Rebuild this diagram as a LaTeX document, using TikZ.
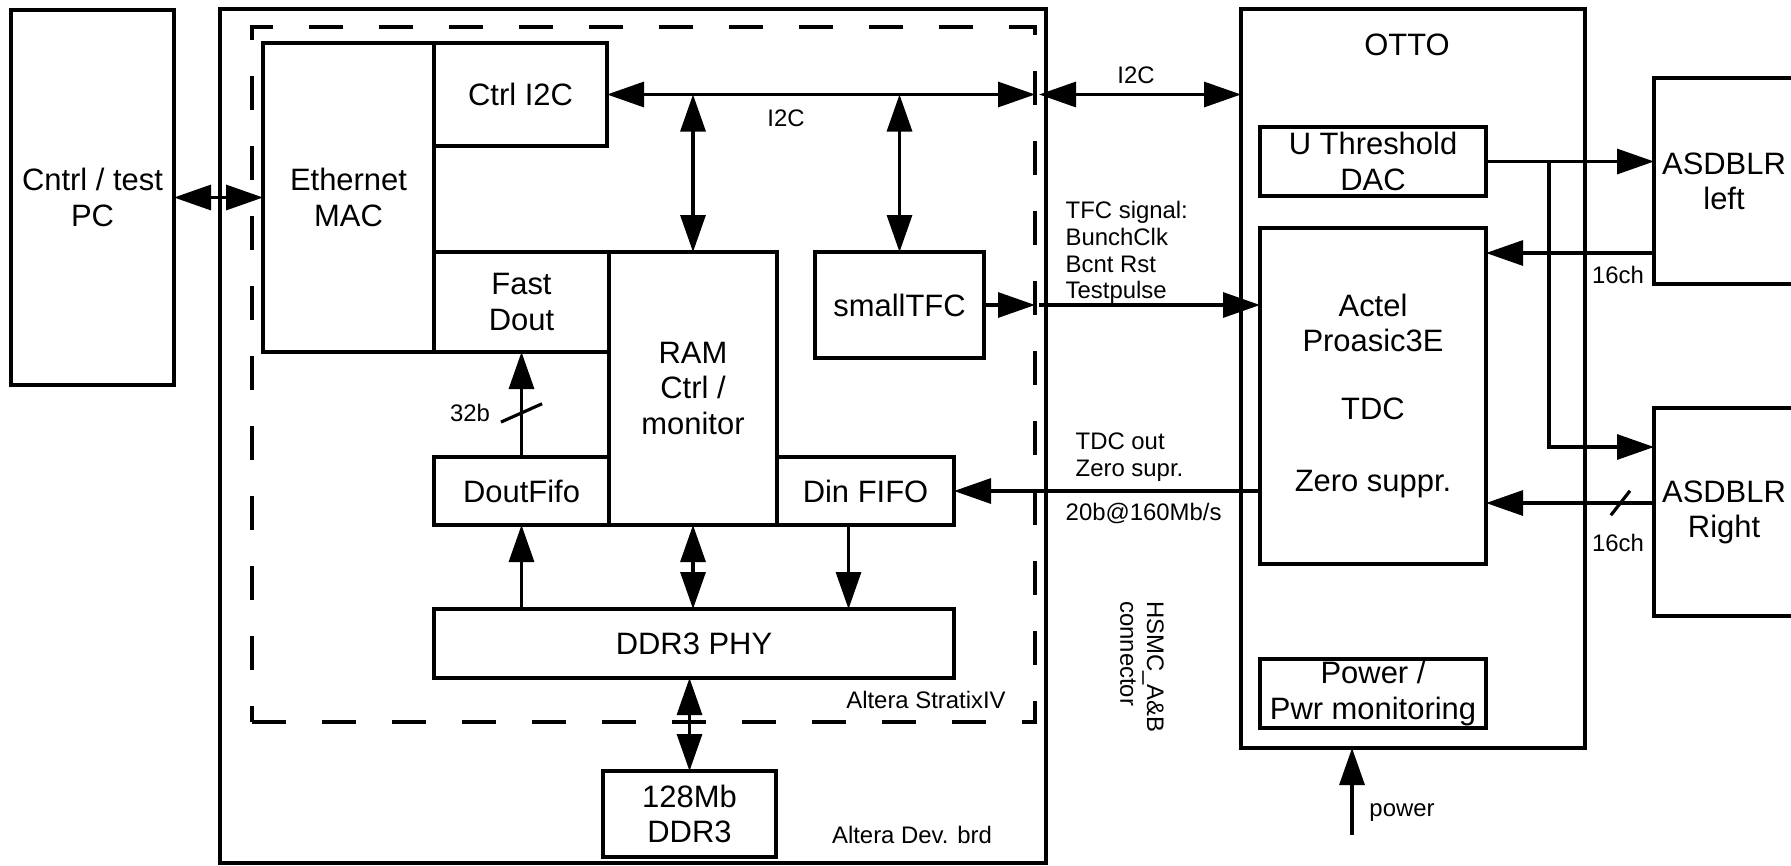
\documentclass[tikz,border=0pt]{standalone}
\usepackage{fontspec}
\setmainfont{Liberation Sans}
\usetikzlibrary{arrows.meta, positioning}

\begin{document}
\begin{tikzpicture}[
        block/.style={draw, rectangle, line width=0.9pt, align=center, inner sep=0pt, outer sep=0pt, font=\fontsize{8.8}{10}\selectfont},
        frame/.style={draw, rectangle, line width=0.9pt, outer sep=0pt},
        fpgaframe/.style={draw, rectangle, line width=1pt, outer sep=0pt, dash pattern=on 3.4mm off 3.6mm},
        title/.style={inner sep=0pt, font=\fontsize{8.8}{10}\selectfont},
        note/.style={inner sep=0pt, align=left, font=\fontsize{6.8}{7.6}\selectfont},
        sig/.style={line width=0.9pt, -{Triangle[length=3.7mm, width=2.5mm]}},
        bisig/.style={line width=0.9pt, {Triangle[length=3.7mm, width=2.5mm]}-{Triangle[length=3.7mm, width=2.5mm]}},
        slash/.style={draw, line width=0.9pt, minimum height=0pt, inner sep=0pt}
    ]
    \useasboundingbox (0,0) rectangle (17.91,8.65);
    % boards
    \node[frame, minimum width=8.26cm, minimum height=8.54cm] (devbrd) at (6.33,4.29) {};
    \node[fpgaframe, minimum width=7.83cm, minimum height=6.95cm] (fpga) at (6.435,4.905) {};
    \node[frame, minimum width=3.44cm, minimum height=7.39cm] (otto) at (14.13,4.865) {};
    \node[title] (ottolbl) at (14.07,8.20) {OTTO};

    % PC and FPGA blocks
    \node[block, minimum width=1.63cm, minimum height=3.75cm] (pc) at (0.925,6.675) {Cntrl / test\\PC};
    \node[block, minimum width=1.71cm, minimum height=3.09cm] (eth) at (3.485,6.675) {Ethernet\\MAC};
    \node[block, minimum width=1.73cm, minimum height=1.03cm, anchor=north west] (ctrli2c) at (eth.north east) {Ctrl I2C};
    \node[block, minimum width=1.75cm, minimum height=1.00cm, anchor=south west] (fastdout) at (eth.south east) {Fast\\Dout};
    \node[block, minimum width=1.68cm, minimum height=2.73cm, anchor=north west] (ram) at (fastdout.north east) {RAM\\Ctrl /\\monitor};
    \node[block, minimum width=1.75cm, minimum height=0.68cm, anchor=south east] (doutfifo) at (ram.south west) {DoutFifo};
    \node[block, minimum width=1.77cm, minimum height=0.68cm, anchor=south west] (dinfifo) at (ram.south east) {Din FIFO};
    \node[block, minimum width=1.69cm, minimum height=1.06cm] (smalltfc) at (8.995,5.60) {smallTFC};
    \node[block, minimum width=5.20cm, minimum height=0.69cm] (ddrphy) at (6.94,2.215) {DDR3 PHY};
    \node[block, minimum width=1.73cm, minimum height=0.86cm] (ddr3mem) at (6.895,0.51) {128Mb\\DDR3};

    % OTTO blocks and front-ends
    \node[block, minimum width=2.26cm, minimum height=0.69cm] (dac) at (13.73,7.035) {U Threshold\\DAC};
    \node[block, minimum width=2.26cm, minimum height=3.36cm] (actel) at (13.73,4.69) {Actel\\Proasic3E\\[9.5pt]TDC\\[10.5pt]Zero suppr.};
    \node[block, minimum width=2.26cm, minimum height=0.69cm] (pwr) at (13.73,1.715) {Power /\\Pwr monitoring};
    \node[block, minimum width=1.40cm, minimum height=2.06cm] (asdl) at (17.24,6.84) {ASDBLR\\left};
    \node[block, minimum width=1.40cm, minimum height=2.08cm] (asdr) at (17.24,3.53) {ASDBLR\\Right};

    % ethernet and I2C bus
    \draw[bisig] (pc.east) -- (eth.west);
    \draw[bisig] (ctrli2c.east) -- (ctrli2c.east -| fpga.east);
    \draw[bisig] ([xshift=0.4mm]ctrli2c.east -| fpga.east) -- (ctrli2c.east -| otto.west);
    \draw[bisig] (ctrli2c.east -| ram.north) -- (ram.north);
    \draw[bisig] (ctrli2c.east -| smalltfc.north) -- (smalltfc.north);
    \node[note] (i2cin) at (7.86,7.47) {I2C};
    \node[note] (i2cout) at (11.36,7.90) {I2C};

    % TFC
    \draw[sig] (smalltfc.east) -- (smalltfc.east -| fpga.east);
    \draw[sig] ([xshift=0.4mm]smalltfc.east -| fpga.east) -- (smalltfc.east -| actel.west);
    \node[note, anchor=west] (tfclbl) at (10.65,6.125) {TFC signal:\\BunchClk\\Bcnt Rst\\Testpulse};

    % data path
    \draw[sig] (doutfifo.north) -- (fastdout.south) node[pos=0.42, slash, minimum width=4.5mm, rotate=24] (slash32) {};
    \node[note] (bits32) at (4.70,4.52) {32b};
    \draw[sig] (doutfifo.south |- ddrphy.north) -- (doutfifo.south);
    \draw[bisig] (ram.south) -- (ram.south |- ddrphy.north);
    \draw[sig] ([xshift=-1.7mm]dinfifo.south) -- ([xshift=-1.7mm]dinfifo.south |- ddrphy.north);
    \draw[bisig] (ddrphy.south -| ddr3mem.north) -- (ddr3mem.north);
    \draw[sig] (actel.west |- dinfifo.east) -- (dinfifo.east);
    \node[note, anchor=west] (tdclbl) at (10.75,4.08) {TDC out\\Zero supr.};
    \node[note, anchor=west] (ratelbl) at (10.65,3.52) {20b@160Mb/s};

    % threshold and channels
    \path (dac.east) ++(0.63,0) coordinate (dacsplit);
    \draw[sig] (dac.east) -- (dac.east -| asdl.west);
    \draw[sig] (dacsplit) |- ([yshift=6.5mm]asdr.west);
    \draw[sig] ([yshift=-7.2mm]asdl.west) -- ([yshift=-7.2mm]asdl.west -| actel.east);
    \node[note] (ch16l) at (16.18,5.90) {16ch};
    \draw[sig] ([yshift=0.9mm]asdr.west) -- ([yshift=0.9mm]asdr.west -| actel.east) node[pos=0.20, slash, minimum width=3.1mm, rotate=52] (slash16) {};
    \node[note] (ch16r) at (16.18,3.22) {16ch};

    % power
    \coordinate (pwrsrc) at (13.52,0.30);
    \draw[sig] (pwrsrc) -- (pwrsrc |- otto.south);
    \node[note] (pwrlbl) at (14.02,0.52) {power};

    % board labels
    \node[note] (stratix) at (9.26,1.65) {Altera StratixIV};
    \node[note] (devlbl) at (9.12,0.30) {Altera Dev. brd};
    \node[note, rotate=-90] (hsmc) at (11.42,1.98) {HSMC\_A\&B\\connector};
\end{tikzpicture}
\end{document}
